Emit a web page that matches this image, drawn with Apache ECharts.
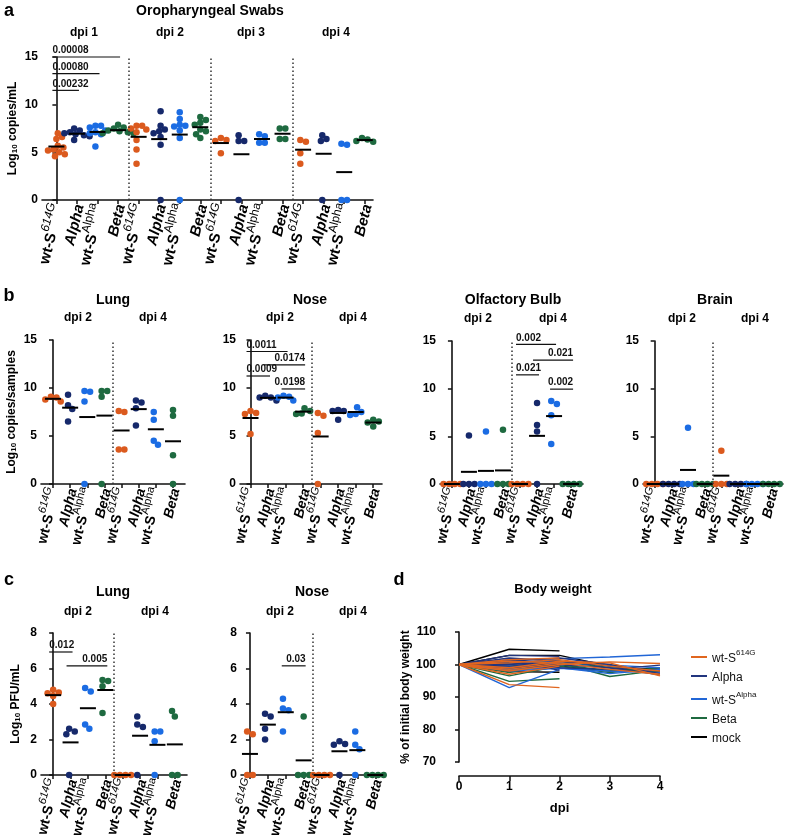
<!DOCTYPE html>
<html>
<head>
<meta charset="utf-8">
<script src="https://cdn.jsdelivr.net/npm/echarts@6/dist/echarts.min.js"></script>
<style>
  html, body { margin: 0; background: #fff; }
  #chart { width: 788px; height: 840px; }
</style>
</head>
<body>
<div id="chart"></div>
<script>
var FONT = '"Liberation Sans", Arial, sans-serif';

// group order in every panel: wt-S614G, Alpha, wt-SAlpha, Beta
var groupKeys = ['wt614', 'alpha', 'wtAlpha', 'beta'];
var groupColors = ['#DB5A1E', '#16296B', '#1B6CE3', '#1E6A40'];

// a - oropharyngeal swabs (log10 copies/mL)
var swabDpi1 = [[7.0, 6.6, 6.4, 5.7, 5.5, 5.3, 5.2, 5.0, 4.8, 4.6], [7.5, 7.3, 7.1, 7.0, 6.9, 6.8, 6.7, 6.3], [7.8, 7.8, 7.6, 7.3, 7.1, 7.0, 6.9, 5.6], [7.9, 7.6, 7.5, 7.3, 7.2, 7.1, 7.0, 7.0]];
var swabDpi2 = [[7.8, 7.8, 7.5, 7.4, 7.1, 6.3, 5.3, 3.8], [9.3, 7.8, 7.4, 7.2, 7.0, 6.6, 5.8, 0], [9.2, 8.5, 7.9, 7.8, 7.7, 7.3, 6.5, 0], [8.7, 8.4, 8.1, 7.9, 7.4, 7.2, 6.9, 6.5]];
var swabDpi3 = [[6.5, 6.3, 6.2, 4.9], [6.8, 6.2, 6.2, 0], [6.9, 6.7, 6.0, 6.0], [7.5, 7.5, 6.4, 6.4]];
var swabDpi4 = [[6.3, 6.1, 4.9, 3.8], [6.8, 6.4, 6.2, 0], [5.9, 5.8, 0, 0], [6.5, 6.35, 6.2, 6.1]];
// [from category, to category, bar level, p value]
var swabSig = [[0, 3, 15.0, '0.00008'], [0, 2, 13.25, '0.00080'], [0, 1, 11.5, '0.00232']];

// b - RNA in tissues (log10 copies/samples)
var lungRnaDpi2 = [[9.1, 9.0, 8.8, 8.6], [9.3, 8.2, 7.8, 6.5], [9.7, 9.6, 8.6, 0], [9.7, 9.7, 9.1, 0]];
var lungRnaDpi4 = [[7.6, 7.5, 3.6, 3.6], [8.7, 8.5, 7.9, 6.1], [7.5, 6.7, 4.5, 4.1], [7.7, 7.1, 3.0, 0]];
var noseRnaDpi2 = [[7.6, 7.4, 7.3, 5.2], [9.2, 9.0, 9.0, 8.7], [9.2, 9.1, 9.0, 8.7], [7.9, 7.6, 7.35, 7.3]];
var noseRnaDpi4 = [[7.4, 7.1, 5.3, 0], [7.7, 7.6, 7.6, 6.7], [8.0, 7.5, 7.3, 7.2], [6.7, 6.5, 6.4, 6.0]];
var noseRnaSig = [[0, 2, 13.8, '0.0011'], [1, 3, 12.4, '0.0174'], [0, 1, 11.25, '0.0009'], [2, 3, 9.9, '0.0198']];
var bulbRnaDpi2 = [[0, 0, 0, 0], [5.1, 0, 0, 0], [5.5, 0, 0, 0], [5.7, 0, 0, 0]];
var bulbRnaDpi4 = [[0, 0, 0, 0], [8.5, 6.2, 5.5, 0], [8.7, 8.4, 7.2, 4.2], [0, 0, 0, 0]];
var bulbRnaSig = [[4, 6, 14.65, '0.002'], [5, 7, 13.0, '0.021'], [4, 5, 11.45, '0.021'], [6, 7, 9.95, '0.002']];
var brainRnaDpi2 = [[0, 0, 0, 0], [0, 0, 0, 0], [5.9, 0, 0, 0], [0, 0, 0, 0]];
var brainRnaDpi4 = [[3.5, 0, 0, 0], [0, 0, 0, 0], [0, 0, 0, 0], [0, 0, 0, 0]];

// c - infectious virus (log10 PFU/mL)
var lungPfuDpi2 = [[4.8, 4.65, 4.6, 4.45, 4.0], [2.6, 2.45, 2.3, 0], [4.9, 4.7, 2.85, 2.6], [5.35, 5.3, 5.0, 3.5]];
var lungPfuDpi4 = [[0, 0, 0, 0], [3.3, 2.85, 2.7, 0], [2.45, 2.45, 1.9, 0], [3.6, 3.3, 0, 0]];
var lungPfuSig = [[0, 1, 6.93, '0.012'], [1, 3, 6.15, '0.005']];
var nosePfuDpi2 = [[2.45, 2.3, 0, 0], [3.45, 3.3, 2.6, 2.0], [4.3, 3.75, 3.65, 2.45], [3.3, 0, 0, 0]];
var nosePfuDpi4 = [[0, 0, 0, 0], [1.9, 1.75, 1.7, 0], [2.45, 1.7, 1.45, 0], [0, 0, 0, 0]];
var nosePfuSig = [[2, 3, 6.15, '0.03']];

// d - body weight (% of initial), one row per animal, days 0..2 or 0..4
var dpiTicks = [0, 1, 2, 3, 4];
var weightWt614 = [[100, 93.8, 92.9], [100, 97.0, 99.5], [100, 98.5, 100.5], [100, 101.5, 102.0],
  [100, 99.0, 101.0, 100.5, 96.5], [100, 100.5, 101.5, 99.5, 98.0], [100, 98.0, 100.0, 100.8, 100.3], [100, 101.0, 100.5, 98.5, 97.0]];
var weightAlpha = [[100, 102.8, 102.5], [100, 100.0, 100.8], [100, 101.5, 98.2], [100, 99.0, 99.5],
  [100, 102.0, 101.0, 99.5, 98.0], [100, 101.0, 102.0, 100.0, 97.2], [100, 100.5, 99.0, 98.5, 99.8], [100, 99.5, 100.0, 99.0, 96.8]];
var weightWtAlpha = [[100, 92.9, 98.5], [100, 99.0, 101.5], [100, 101.0, 100.0], [100, 98.5, 99.0],
  [100, 100.0, 101.8, 102.3, 103.0], [100, 99.5, 99.0, 97.2, 98.5], [100, 101.0, 100.5, 99.8, 99.0], [100, 98.0, 98.8, 98.0, 97.5]];
var weightBeta = [[100, 94.8, 95.6], [100, 96.5, 99.5], [100, 98.0, 100.0], [100, 99.5, 101.0],
  [100, 97.5, 100.5, 96.3, 98.2], [100, 99.0, 99.5, 97.5, 99.0], [100, 100.5, 101.0, 99.0, 97.8], [100, 98.5, 100.0, 98.0, 98.5]];
var weightMock = [[100, 104.7, 104.2], [100, 97.8, 97.6], [100, 102.8, 102.8, 99.5, 97.5], [100, 101.0, 99.5, 98.0, 99.0]];
var weightNames = ['wt-S614G', 'Alpha', 'wt-SAlpha', 'Beta', 'mock'];

var chart = echarts.init(document.getElementById('chart'));

var catLabel = {
  wt614: '{b|wt-S}{supi|614G}',
  alpha: '{bi|Alpha}',
  wtAlpha: '{b|wt-S}{sup|Alpha}',
  beta: '{bi|Beta}'
};

function labelRich(size) {
  return {
    b: { fontFamily: FONT, fontWeight: 'bold', fontSize: size, color: '#000', lineHeight: size + 6, verticalAlign: 'bottom' },
    bi: { fontFamily: FONT, fontWeight: 'bold', fontStyle: 'italic', fontSize: size, color: '#000', lineHeight: size + 6, verticalAlign: 'bottom' },
    supi: { fontFamily: FONT, fontStyle: 'italic', fontSize: size - 3, color: '#000', lineHeight: size - 3, verticalAlign: 'top' },
    sup: { fontFamily: FONT, fontSize: size - 3, color: '#000', lineHeight: size - 3, verticalAlign: 'top' }
  };
}

var nameRich = {
  t: { fontFamily: FONT, fontWeight: 'bold', fontSize: 12, color: '#000', lineHeight: 16, verticalAlign: 'bottom' },
  s: { fontFamily: FONT, fontWeight: 'bold', fontSize: 8, color: '#000', lineHeight: 8, verticalAlign: 'bottom' }
};

var panels = [
  { left: 42, top: 57, width: 331, height: 143, xMin: -0.7, xMax: 15.4, yMax: 15, yStep: 5,
    data: [swabDpi1, swabDpi2, swabDpi3, swabDpi4], sig: swabSig, unit: ' copies/mL', nameGap: 23, labelSize: 15 },
  { left: 41, top: 340, width: 144, height: 144, xMin: -0.7, xMax: 7.7, yMax: 15, yStep: 5,
    data: [lungRnaDpi2, lungRnaDpi4], sig: [], unit: ' copies/samples', nameGap: 23, labelSize: 14 },
  { left: 240, top: 340, width: 142, height: 144, xMin: -0.6, xMax: 7.5, yMax: 15, yStep: 5,
    data: [noseRnaDpi2, noseRnaDpi4], sig: noseRnaSig, labelSize: 14 },
  { left: 440, top: 341, width: 143, height: 143, xMin: -0.7, xMax: 7.7, yMax: 15, yStep: 5,
    data: [bulbRnaDpi2, bulbRnaDpi4], sig: bulbRnaSig, labelSize: 14 },
  { left: 643, top: 341, width: 140, height: 143, xMin: -0.7, xMax: 7.7, yMax: 15, yStep: 5,
    data: [brainRnaDpi2, brainRnaDpi4], sig: [], labelSize: 14 },
  { left: 41, top: 633, width: 146, height: 142, xMin: -0.7, xMax: 7.7, yMax: 8, yStep: 2,
    data: [lungPfuDpi2, lungPfuDpi4], sig: lungPfuSig, unit: ' PFU/mL', nameGap: 19, labelSize: 14 },
  { left: 241, top: 633, width: 145, height: 142, xMin: -0.5, xMax: 7.6, yMax: 8, yStep: 2,
    data: [nosePfuDpi2, nosePfuDpi4], sig: nosePfuSig, labelSize: 14 }
];

function mean(arr) {
  var s = 0;
  arr.forEach(function (v) { s += v; });
  return s / arr.length;
}

// simple beeswarm: horizontal offsets (in category units) so dots do not pile up
function swarm(vals, pxX, pxY) {
  var minD = 5.6, step = 1.4, placed = [];
  vals.forEach(function (v) {
    var off = 0;
    for (var k = 0; k < 60; k++) {
      off = (k % 2 ? 1 : -1) * Math.ceil(k / 2) * step;
      var ok = placed.every(function (p) {
        var dx = off - p.off, dy = (v - p.v) * pxY;
        var d = (v === 0 && p.v === 0) ? 4.2 : minD;
        return dx * dx + dy * dy >= d * d;
      });
      if (ok) break;
    }
    placed.push({ v: v, off: off });
  });
  var offs = placed.map(function (p) { return p.off; });
  var c = (Math.max.apply(null, offs) + Math.min.apply(null, offs)) / 2;
  return offs.map(function (o) { return (o - c) / pxX; });
}

var grids = [], xAxes = [], yAxes = [], series = [];
var axisColor = '#111';

panels.forEach(function (pn, gi) {
  var nCat = pn.data.length * 4;
  var ticks = [];
  for (var i = 0; i < nCat; i++) ticks.push(i);
  var pxX = pn.width / (pn.xMax - pn.xMin);
  var pxY = pn.height / pn.yMax;

  grids.push({ left: pn.left, top: pn.top, width: pn.width, height: pn.height, outerBoundsMode: 'none' });
  xAxes.push({
    gridIndex: gi, type: 'value', min: pn.xMin, max: pn.xMax,
    axisLine: { show: true, onZero: false, lineStyle: { color: axisColor, width: 1.6 } },
    axisTick: { show: true, customValues: ticks, length: 4, lineStyle: { color: axisColor, width: 1.5 } },
    axisLabel: {
      customValues: ticks, rotate: 76, margin: 4, hideOverlap: false,
      formatter: function (v) { return catLabel[groupKeys[Math.round(v) % 4]]; },
      rich: labelRich(pn.labelSize)
    },
    splitLine: { show: false }
  });
  var yAx = {
    gridIndex: gi, type: 'value', min: 0, max: pn.yMax, interval: pn.yStep,
    axisLine: { show: true, lineStyle: { color: axisColor, width: 1.6 } },
    axisTick: { show: true, length: 4, lineStyle: { color: axisColor, width: 1.5 } },
    axisLabel: { fontFamily: FONT, fontWeight: 'bold', fontSize: 12, color: '#000', margin: 4 },
    splitLine: { show: false }
  };
  if (pn.unit) {
    yAx.name = '{t|Log}{s|10}{t|' + pn.unit + '}';
    yAx.nameLocation = 'middle';
    yAx.nameGap = pn.nameGap;
    yAx.nameTextStyle = { rich: nameRich };
  }
  yAxes.push(yAx);

  var points = [], means = [];
  pn.data.forEach(function (timepoint, ti) {
    timepoint.forEach(function (vals, g) {
      var x = ti * 4 + g;
      var offs = swarm(vals, pxX, pxY);
      vals.forEach(function (v, k) {
        points.push({ value: [x + offs[k], v], itemStyle: { color: groupColors[g], opacity: 1 } });
      });
      means.push([x, mean(vals)]);
    });
  });

  var seps = [];
  for (var t = 1; t < pn.data.length; t++) seps.push({ xAxis: t * 4 - 0.5 });

  series.push({
    type: 'scatter', xAxisIndex: gi, yAxisIndex: gi, symbolSize: 6.5, clip: false,
    itemStyle: { opacity: 1 },
    data: points, z: 3,
    markLine: {
      silent: true, symbol: 'none', label: { show: false },
      lineStyle: { type: [1.5, 2.5], color: '#333', width: 1.5 },
      data: seps
    }
  });
  series.push({
    type: 'custom', coordinateSystem: 'cartesian2d', xAxisIndex: gi, yAxisIndex: gi, z: 4, clip: false,
    data: means,
    renderItem: function (params, api) {
      var p = api.coord([api.value(0), api.value(1)]);
      return { type: 'line', shape: { x1: p[0] - 8, y1: p[1], x2: p[0] + 8, y2: p[1] },
        style: { stroke: '#000', lineWidth: 2 } };
    }
  });
  if (pn.sig.length) {
    var sig = pn.sig;
    series.push({
      type: 'custom', coordinateSystem: 'cartesian2d', xAxisIndex: gi, yAxisIndex: gi, z: 4, clip: false,
      data: sig.map(function (s) { return [s[0], s[2]]; }),
      renderItem: function (params, api) {
        var s = sig[params.dataIndex];
        var p1 = api.coord([s[0], s[2]]), p2 = api.coord([s[1], s[2]]);
        var x1 = p1[0] - 4, x2 = p2[0] + 2, y = p1[1];
        var leftAnchor = s[0] % 4 === 0;
        return {
          type: 'group', children: [
            { type: 'line', shape: { x1: x1, y1: y, x2: x2, y2: y }, style: { stroke: '#111', lineWidth: 1.2 } },
            { type: 'text', x: leftAnchor ? x1 : x2, y: y - 1.5,
              style: { text: s[3], fontFamily: FONT, fontWeight: 'bold', fontSize: 10, fill: '#111',
                align: leftAnchor ? 'left' : 'right', textAlign: leftAnchor ? 'left' : 'right',
                verticalAlign: 'bottom', textVerticalAlign: 'bottom' } }
          ]
        };
      }
    });
  }
});

// d - body weight panel
var dIdx = panels.length;
grids.push({ left: 459, top: 632, width: 201, height: 130, outerBoundsMode: 'none' });
xAxes.push({
  gridIndex: dIdx, type: 'value', min: 0, max: 4, interval: 1, offset: 14,
  axisLine: { show: true, onZero: false, lineStyle: { color: axisColor, width: 1.6 } },
  axisTick: { show: true, length: 5, lineStyle: { color: axisColor, width: 1.5 } },
  axisLabel: { fontFamily: FONT, fontWeight: 'bold', fontSize: 12, color: '#000', margin: 5 },
  splitLine: { show: false },
  name: 'dpi', nameLocation: 'middle', nameGap: 26,
  nameTextStyle: { fontFamily: FONT, fontWeight: 'bold', fontSize: 13, color: '#000' }
});
yAxes.push({
  gridIndex: dIdx, type: 'value', min: 70, max: 110, interval: 10, offset: 19,
  axisLine: { show: true, lineStyle: { color: axisColor, width: 1.6 } },
  axisTick: { show: true, length: 4, lineStyle: { color: axisColor, width: 1.5 } },
  axisLabel: { fontFamily: FONT, fontWeight: 'bold', fontSize: 12, color: '#000', margin: 4 },
  splitLine: { show: false },
  name: '% of initial body weight', nameLocation: 'middle', nameGap: 26,
  nameTextStyle: { fontFamily: FONT, fontWeight: 'bold', fontSize: 12, color: '#000' }
});

var weightGroups = [
  [weightMock, 4, '#000000'],
  [weightBeta, 3, groupColors[3]],
  [weightWtAlpha, 2, '#2166D6'],
  [weightAlpha, 1, '#22357E'],
  [weightWt614, 0, '#E0661F']
];
weightGroups.forEach(function (wg) {
  wg[0].forEach(function (animal) {
    series.push({
      type: 'line', name: weightNames[wg[1]], xAxisIndex: dIdx, yAxisIndex: dIdx,
      showSymbol: false, symbol: 'none', color: wg[2],
      lineStyle: { width: 1.4, color: wg[2] },
      data: animal.map(function (v, i) { return [dpiTicks[i], v]; })
    });
  });
});

var legendLabel = {
  'wt-S614G': '{n|wt-S}{sup|614G}',
  'Alpha': '{n|Alpha}',
  'wt-SAlpha': '{n|wt-S}{sup|Alpha}',
  'Beta': '{n|Beta}',
  'mock': '{n|mock}'
};

function txt(x, y, text, size, weight) {
  return { type: 'text', x: x, y: y,
    style: { text: text, fontFamily: FONT, fontWeight: weight || 'bold', fontSize: size, fill: '#000',
      align: 'center', textAlign: 'center', verticalAlign: 'middle', textVerticalAlign: 'middle' } };
}

var graphics = [
  txt(9, 11, 'a', 18), txt(9, 296, 'b', 18), txt(9, 580, 'c', 18), txt(399, 580, 'd', 18),
  txt(210, 11, 'Oropharyngeal Swabs', 14),
  txt(84, 33, 'dpi 1', 12), txt(170, 33, 'dpi 2', 12), txt(251, 33, 'dpi 3', 12), txt(336, 33, 'dpi 4', 12),
  txt(113, 300, 'Lung', 14), txt(310, 300, 'Nose', 14), txt(513, 300, 'Olfactory Bulb', 14), txt(715, 300, 'Brain', 14),
  txt(78, 318, 'dpi 2', 12), txt(153, 318, 'dpi 4', 12), txt(280, 318, 'dpi 2', 12), txt(353, 318, 'dpi 4', 12),
  txt(478, 319, 'dpi 2', 12), txt(553, 319, 'dpi 4', 12), txt(682, 319, 'dpi 2', 12), txt(755, 319, 'dpi 4', 12),
  txt(113, 592, 'Lung', 14), txt(312, 592, 'Nose', 14),
  txt(78, 612, 'dpi 2', 12), txt(155, 612, 'dpi 4', 12), txt(280, 612, 'dpi 2', 12), txt(353, 612, 'dpi 4', 12),
  txt(553, 589, 'Body weight', 13)
];

chart.setOption({
  animation: false,
  backgroundColor: '#fff',
  grid: grids,
  xAxis: xAxes,
  yAxis: yAxes,
  legend: {
    data: weightNames, orient: 'vertical', left: 686, top: 644,
    icon: 'rect', itemWidth: 16, itemHeight: 2, itemGap: 7,
    formatter: function (n) { return legendLabel[n]; },
    textStyle: {
      rich: {
        n: { fontFamily: FONT, fontSize: 12, color: '#111', lineHeight: 16, verticalAlign: 'bottom' },
        sup: { fontFamily: FONT, fontSize: 8, color: '#111', lineHeight: 8, verticalAlign: 'top' }
      }
    }
  },
  graphic: graphics,
  series: series
});
</script>
</body>
</html>
